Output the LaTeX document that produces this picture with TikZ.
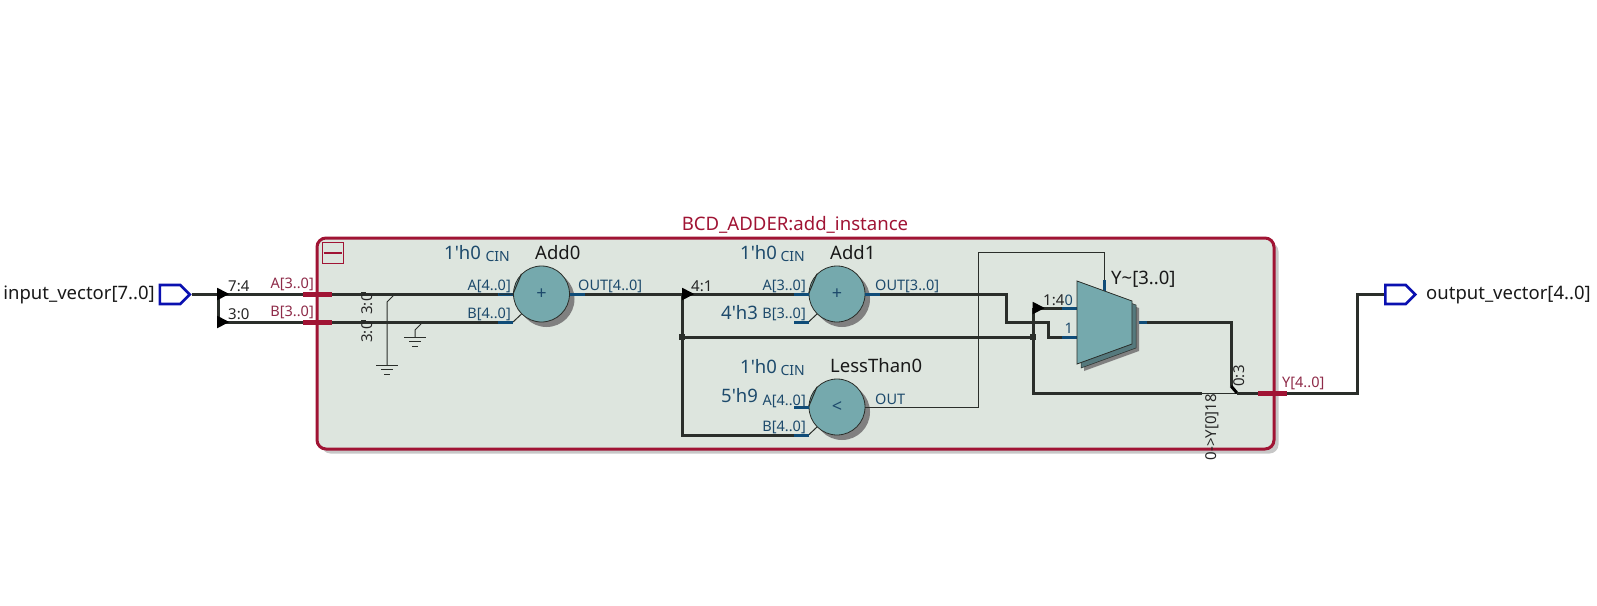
\documentclass[tikz,border=0pt]{standalone}
\usepackage{fontspec}
\setmainfont{Noto Sans}
\usepackage{tikz}
\usetikzlibrary{arrows.meta,positioning,calc,shapes.geometric,shapes.symbols,shadows}
\definecolor{blockred}{HTML}{A01434}
\definecolor{blockfill}{HTML}{DDE5DE}
\definecolor{opteal}{HTML}{75A9AD}
\definecolor{opdark}{HTML}{55797D}
\definecolor{pinblue}{HTML}{0A10B0}
\definecolor{wirecol}{HTML}{2A2E2A}
\definecolor{stubblue}{HTML}{0F4C78}
\definecolor{lblnavy}{HTML}{1D4A6C}
\definecolor{lblred}{HTML}{8E2A48}
\tikzset{
  wire/.style={wirecol, line width=3pt},
  thinwire/.style={wirecol, line width=1pt},
  stub/.style={stubblue, line width=3pt},
  portbar/.style={blockred, line width=5pt},
  pinbox/.style={signal, signal to=east, draw=pinblue, fill=white, line width=2.6pt,
    minimum width=30pt, minimum height=19pt, inner sep=0pt, anchor=west},
  opcirc/.style={circle, draw=wirecol, line width=0.8pt, fill=opteal, minimum size=56pt,
    inner sep=0pt, text=lblnavy, font=\fontsize{18}{18}\selectfont,
    drop shadow={shadow xshift=5pt, shadow yshift=-5pt, fill=black!50, opacity=1}},
  tap/.style={isosceles triangle, isosceles triangle apex angle=55, fill=black,
    minimum height=12pt, inner sep=0pt, anchor=west},
  jdot/.style={rectangle, fill=wirecol, minimum size=6.5pt, inner sep=0pt},
  namelbl/.style={inner sep=0pt, yshift=-2pt, text=black!90, font=\fontsize{18.5}{18}\selectfont},
  constlbl/.style={inner sep=0pt, yshift=-1.5pt, text=lblnavy, font=\fontsize{18.5}{18}\selectfont},
  portlbl/.style={inner sep=0pt, yshift=-1.5pt, text=lblnavy, font=\fontsize{14.5}{15}\selectfont},
  cinlbl/.style={inner sep=0pt, yshift=-1.5pt, text=lblnavy, font=\fontsize{14}{14}\selectfont},
  redlbl/.style={inner sep=0pt, yshift=-1.5pt, text=lblred, font=\fontsize{14.5}{15}\selectfont},
  tinylbl/.style={inner sep=0pt, yshift=-1.5pt, text=black!85, font=\fontsize{15}{15}\selectfont},
  vertlbl/.style={inner sep=0pt, rotate=90, text=black!85, font=\fontsize{15}{15}\selectfont},
}
\begin{document}
\begin{tikzpicture}[x=1pt, y=-1pt]
  \useasboundingbox (0,0) rectangle (1597,605);

  % Block outline with its shadow
  \node[rectangle, rounded corners=9pt, fill=black!22, minimum width=957pt, minimum height=211pt,
    inner sep=0pt] (blockshadow) at (800,348) {};
  \node[rectangle, rounded corners=9pt, draw=blockred, line width=3pt, fill=blockfill,
    minimum width=957pt, minimum height=211pt, inner sep=0pt] (block) at (795.5,343.5) {};
  \node[font=\fontsize{18.6}{18}\selectfont, text=blockred, inner sep=0pt] (blocktitle) at (795,225)
    {BCD\_ADDER:add\_instance};

  % Collapse box
  \node[rectangle, draw=blockred, line width=1pt, minimum width=21pt, minimum height=21pt,
    inner sep=0pt] (collapse) at (332.5,253) {};
  \draw[blockred, line width=2.5pt] ($(collapse.west)+(2,0)$) -- ($(collapse.east)+(-2,0)$);

  % Top level pins
  \node[pinbox] (inpin) at (158.5,294.5) {};
  \node[pinbox] (outpin) at (1384,294.5) {};
  \node[namelbl, anchor=east] (inname) at (155,293) {input\_vector[7..0]};
  \node[namelbl, anchor=west] (outname) at (1426,293) {output\_vector[4..0]};

  % --- Named points of the wiring ---
  \coordinate (busv) at (218,294.5);
  \coordinate (busb) at (218,322);
  \coordinate (aout) at (332,294);
  \coordinate (bout) at (332,322);
  \coordinate (asum) at (682,294);
  \coordinate (lowb) at (682,435);
  \coordinate (junb) at (1033,337);
  \coordinate (muxtap) at (1033,308);
  \coordinate (muxa) at (1077,308);
  \coordinate (muxb) at (1077,337);
  \coordinate (muxs) at (1104,291);
  \coordinate (muxo) at (1132,322);
  \coordinate (ymerge) at (1237,393);
  \coordinate (yport) at (1272.5,393);
  \coordinate (ybend) at (1231,386);

  % Operators
  \node[opcirc] (add0) at (541.5,294) {+};
  \node[opcirc] (add1) at (837,294) {+};
  \node[opcirc] (lt0) at (837,407) {<};

  % Input bus
  \draw[wire] (inpin.east) -- (busv);
  \draw[wire] (busv) -- (busb);
  \draw[wire] (busv |- aout) -- (add0.west);
  \draw[wire] (busb) -- (bout) -- ++(181,0) coordinate (add0b);
  \draw[thinwire] (add0b) -- (add0.south west);
  \node[tap] (tapa) at (217,294) {};
  \node[tap] (tapb) at (217,322) {};
  \draw[portbar] (303,294) -- (aout);
  \draw[portbar] (303,322) -- (bout);
  \draw[stub] (498,294) -- (add0.west);
  \draw[stub] (498,322) -- (add0b);

  % Tied off bits
  \fill[wirecol] (361,292) rectangle (366,296);
  \fill[wirecol] (361,320) rectangle (366,324);
  \coordinate (gnda) at (387,365);
  \coordinate (gndb) at (415,337);
  \draw[thinwire] (394,295) -- (387,302) -- (gnda);
  \draw[thinwire] (421,324) -- (415,330) -- (gndb);
  \foreach \g in {gnda,gndb}{
    \draw[thinwire] ($(\g)+(-11,0)$) -- ($(\g)+(11,0)$);
    \draw[thinwire] ($(\g)+(-6,4.5)$) -- ($(\g)+(6,4.5)$);
    \draw[thinwire] ($(\g)+(-3,9)$) -- ($(\g)+(3,9)$);
  }

  % CIN stubs
  \foreach \c/\yy in {add0/266,add1/266,lt0/379}{
    \draw[thinwire] ($(\c.center)+(-42.5,0)$ |- 0,\yy) -- ($(\c.center)+(-28.5,0)$ |- 0,\yy)
      -- (\c.north west);
  }
  \draw[thinwire] ($(add1.center)+(-28.5,28)$) -- (add1.south west);
  \draw[thinwire] ($(lt0.center)+(-28.5,28)$) -- (lt0.south west);

  % Sum wires
  \draw[wire] (add0.east) -- (asum) -- (add1.west);
  \draw[wire] (asum) -- (lowb) -- (794,435);
  \draw[wire] (asum |- junb) -- (junb);
  \draw[wire] (add1.east) -- (1006,294) -- (1006,322) -- (1048,322) -- (1048,337) -- (muxb);
  \draw[wire] (muxtap) -- (muxa);
  \draw[wire] (muxtap) -- (1033,393) -- (1202,393);
  \draw[thinwire] (1202,393) -- (ymerge);
  \draw[wire] (muxo) -- (1231,322) -- (ybend);
  \draw[black, line width=3pt] (ybend) -- (ymerge);
  \draw[wire] (ymerge) -- (yport) -- (1357,393) -- (1357,294.5) -- (outpin.west);
  \draw[portbar] (1258,393) -- (1287,393);

  % Select line of the mux
  \draw[thinwire] (lt0.east) -- (978,407) -- (978,252) -- (1104,252) -- (muxs);

  % Taps and junctions
  \node[tap] (tapsum) at (682,294) {};
  \node[tap] (tapmux) at (1032.5,308) {};
  \node[jdot] (jleft) at (asum |- junb) {};
  \node[jdot] (jright) at (junb) {};

  % Blue stubs on the operators
  \draw[stub] (add0.east) -- ++(15,0);
  \draw[stub] (add1.east) -- ++(15,0);
  \draw[stub] (794,294) -- (add1.west);
  \draw[stub] (794,322) -- ++(15,0);
  \draw[stub] (794,407) -- (lt0.west);
  \draw[stub] (794,435) -- ++(15,0);
  \draw[stub] (1062,308) -- (muxa);
  \draw[stub] (1062,337) -- (muxb);
  \draw[stub] (1104,280) -- (muxs);
  \draw[stub] (muxo) -- ++(15,0);

  % Mux with its layers
  \fill[black!50] (1084,288) -- (1139,308) -- (1139,351) -- (1084,371) -- cycle;
  \fill[opdark, draw=wirecol, line width=0.5pt] (1081,285) -- (1136,305) -- (1136,348) -- (1081,368) -- cycle;
  \fill[opteal, draw=wirecol, line width=0.8pt] (1077,281) -- (1132,301) -- (1132,344) -- (1077,364) -- cycle;

  % --- Labels ---
  \node[namelbl, anchor=west] (add0name) at (535,251) {Add0};
  \node[namelbl, anchor=west] (add1name) at (830,251) {Add1};
  \node[namelbl, anchor=west] (lt0name) at (830,364) {LessThan0};
  \node[namelbl, anchor=west] (muxname) at (1111,277) {Y\textasciitilde[3..0]};

  \foreach \n/\xx/\yy in {c0/444/251,c1/740/251,c2/740/365}{
    \node[constlbl, anchor=west] (\n) at (\xx,\yy) {1\textquotesingle h0};
  }
  \node[constlbl, anchor=west] (c3) at (721,311) {4\textquotesingle h3};
  \node[constlbl, anchor=west] (c4) at (721,394) {5\textquotesingle h9};
  \foreach \n/\xx/\yy in {cin0/510/255,cin1/805/255,cin2/805/369}{
    \node[cinlbl, anchor=east] (\n) at (\xx,\yy) {CIN};
  }
  \node[portlbl, anchor=east] (a0a) at (511,285) {A[4..0]};
  \node[portlbl, anchor=east] (a0b) at (511,313) {B[4..0]};
  \node[portlbl, anchor=west] (a0o) at (578,285) {OUT[4..0]};
  \node[portlbl, anchor=east] (a1a) at (806,285) {A[3..0]};
  \node[portlbl, anchor=east] (a1b) at (806,313) {B[3..0]};
  \node[portlbl, anchor=west] (a1o) at (875,285) {OUT[3..0]};
  \node[portlbl, anchor=east] (lta) at (806,400) {A[4..0]};
  \node[portlbl, anchor=east] (ltb) at (806,426) {B[4..0]};
  \node[portlbl, anchor=west] (lto) at (875,398) {OUT};
  \node[portlbl, anchor=east] (mux0) at (1073,299) {0};
  \node[portlbl, anchor=east] (mux1) at (1073,327) {1};

  \node[redlbl, anchor=east] (porta) at (314,283) {A[3..0]};
  \node[redlbl, anchor=east] (portb) at (314,311) {B[3..0]};
  \node[redlbl, anchor=west] (porty) at (1282,382) {Y[4..0]};

  \node[tinylbl, anchor=west] (sl74) at (228,285) {7:4};
  \node[tinylbl, anchor=west] (sl30) at (228,313) {3:0};
  \node[tinylbl, anchor=west] (sl41) at (691,285) {4:1};
  \node[tinylbl, anchor=west] (sl14) at (1043,299) {1:4};
  \node[vertlbl] (vsla) at (367,304) {3:0};
  \node[vertlbl] (vslb) at (367,332) {3:0};
  \node[vertlbl] (vsl03) at (1239,376) {0:3};
  \node[vertlbl] (vsly) at (1212,427) {0->Y[0]18};
\end{tikzpicture}
\end{document}
